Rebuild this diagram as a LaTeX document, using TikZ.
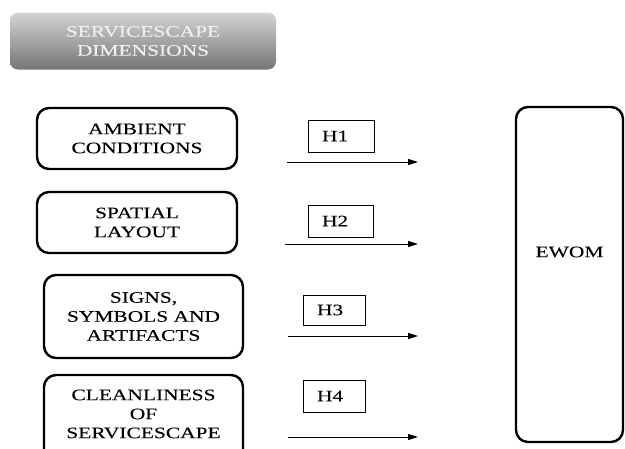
\documentclass[tikz,border=0pt]{standalone}
\usepackage{fontspec}
\setmainfont{Liberation Serif}[FakeStretch=1.34, FakeBold=0.1]
\usetikzlibrary{arrows.meta}
\begin{document}
\begin{tikzpicture}[x=1pt,y=-1pt,
  txt/.style={align=center, font=\fontsize{16}{19}\selectfont, inner sep=0pt},
  dimbox/.style={draw, line width=2.4pt, rounded corners=12pt, txt},
  hbox/.style={draw, line width=0.8pt, inner xsep=14pt, align=left,
    font=\fontsize{16}{19}\selectfont},
  link/.style={line width=1pt, -{Triangle[length=10pt,width=6pt]}}]
\useasboundingbox (0,0) rectangle (625,448);
\clip (0,0) rectangle (625,448);

% heading
\node[txt, rounded corners=8pt, minimum width=266pt, minimum height=57pt,
  top color=black!17, bottom color=black!54, draw=none, text=black!6]
  (hdr) at (143,41) {SERVICESCAPE\\DIMENSIONS};

% dimension boxes
\node[dimbox, minimum width=200pt, minimum height=61pt] (amb) at (137,138.5) {AMBIENT\\CONDITIONS};
\node[dimbox, minimum width=200pt, minimum height=61pt] (spa) at (137,222.5) {SPATIAL\\LAYOUT};
\node[dimbox, minimum width=199pt, minimum height=83pt] (sig) at (143.5,316.5) {SIGNS,\\SYMBOLS AND\\ARTIFACTS};
\node[dimbox, minimum width=199pt, minimum height=110pt] (cle) at (143.5,430) {};
\node[txt] (cletext) at (143.5,414) {CLEANLINESS\\OF\\SERVICESCAPE};

% hypothesis labels
\node[hbox, text width=38pt, minimum height=32pt] (h1) at (341,136) {H1};
\node[hbox, text width=37pt, minimum height=32pt] (h2) at (340.5,221) {H2};
\node[hbox, text width=34pt, minimum height=30pt] (h3) at (334,310) {H3};
\node[hbox, text width=34pt, minimum height=32pt] (h4) at (334,396) {H4};

% outcome
\node[dimbox, minimum width=107pt, minimum height=335pt] (ewom) at (569.5,274.5) {};
\node[txt] (ewomtext) at (569.5,252) {EWOM};

% arrows
\coordinate (a1s) at (287,162); \coordinate (a1e) at (418,162);
\coordinate (a2s) at (285,244); \coordinate (a2e) at (418,244);
\coordinate (a3s) at (288,336); \coordinate (a3e) at (418,336);
\coordinate (a4s) at (288,437); \coordinate (a4e) at (418,437);
\draw[link] (a1s) -- (a1e);
\draw[link] (a2s) -- (a2e);
\draw[link] (a3s) -- (a3e);
\draw[link] (a4s) -- (a4e);
\end{tikzpicture}
\end{document}
